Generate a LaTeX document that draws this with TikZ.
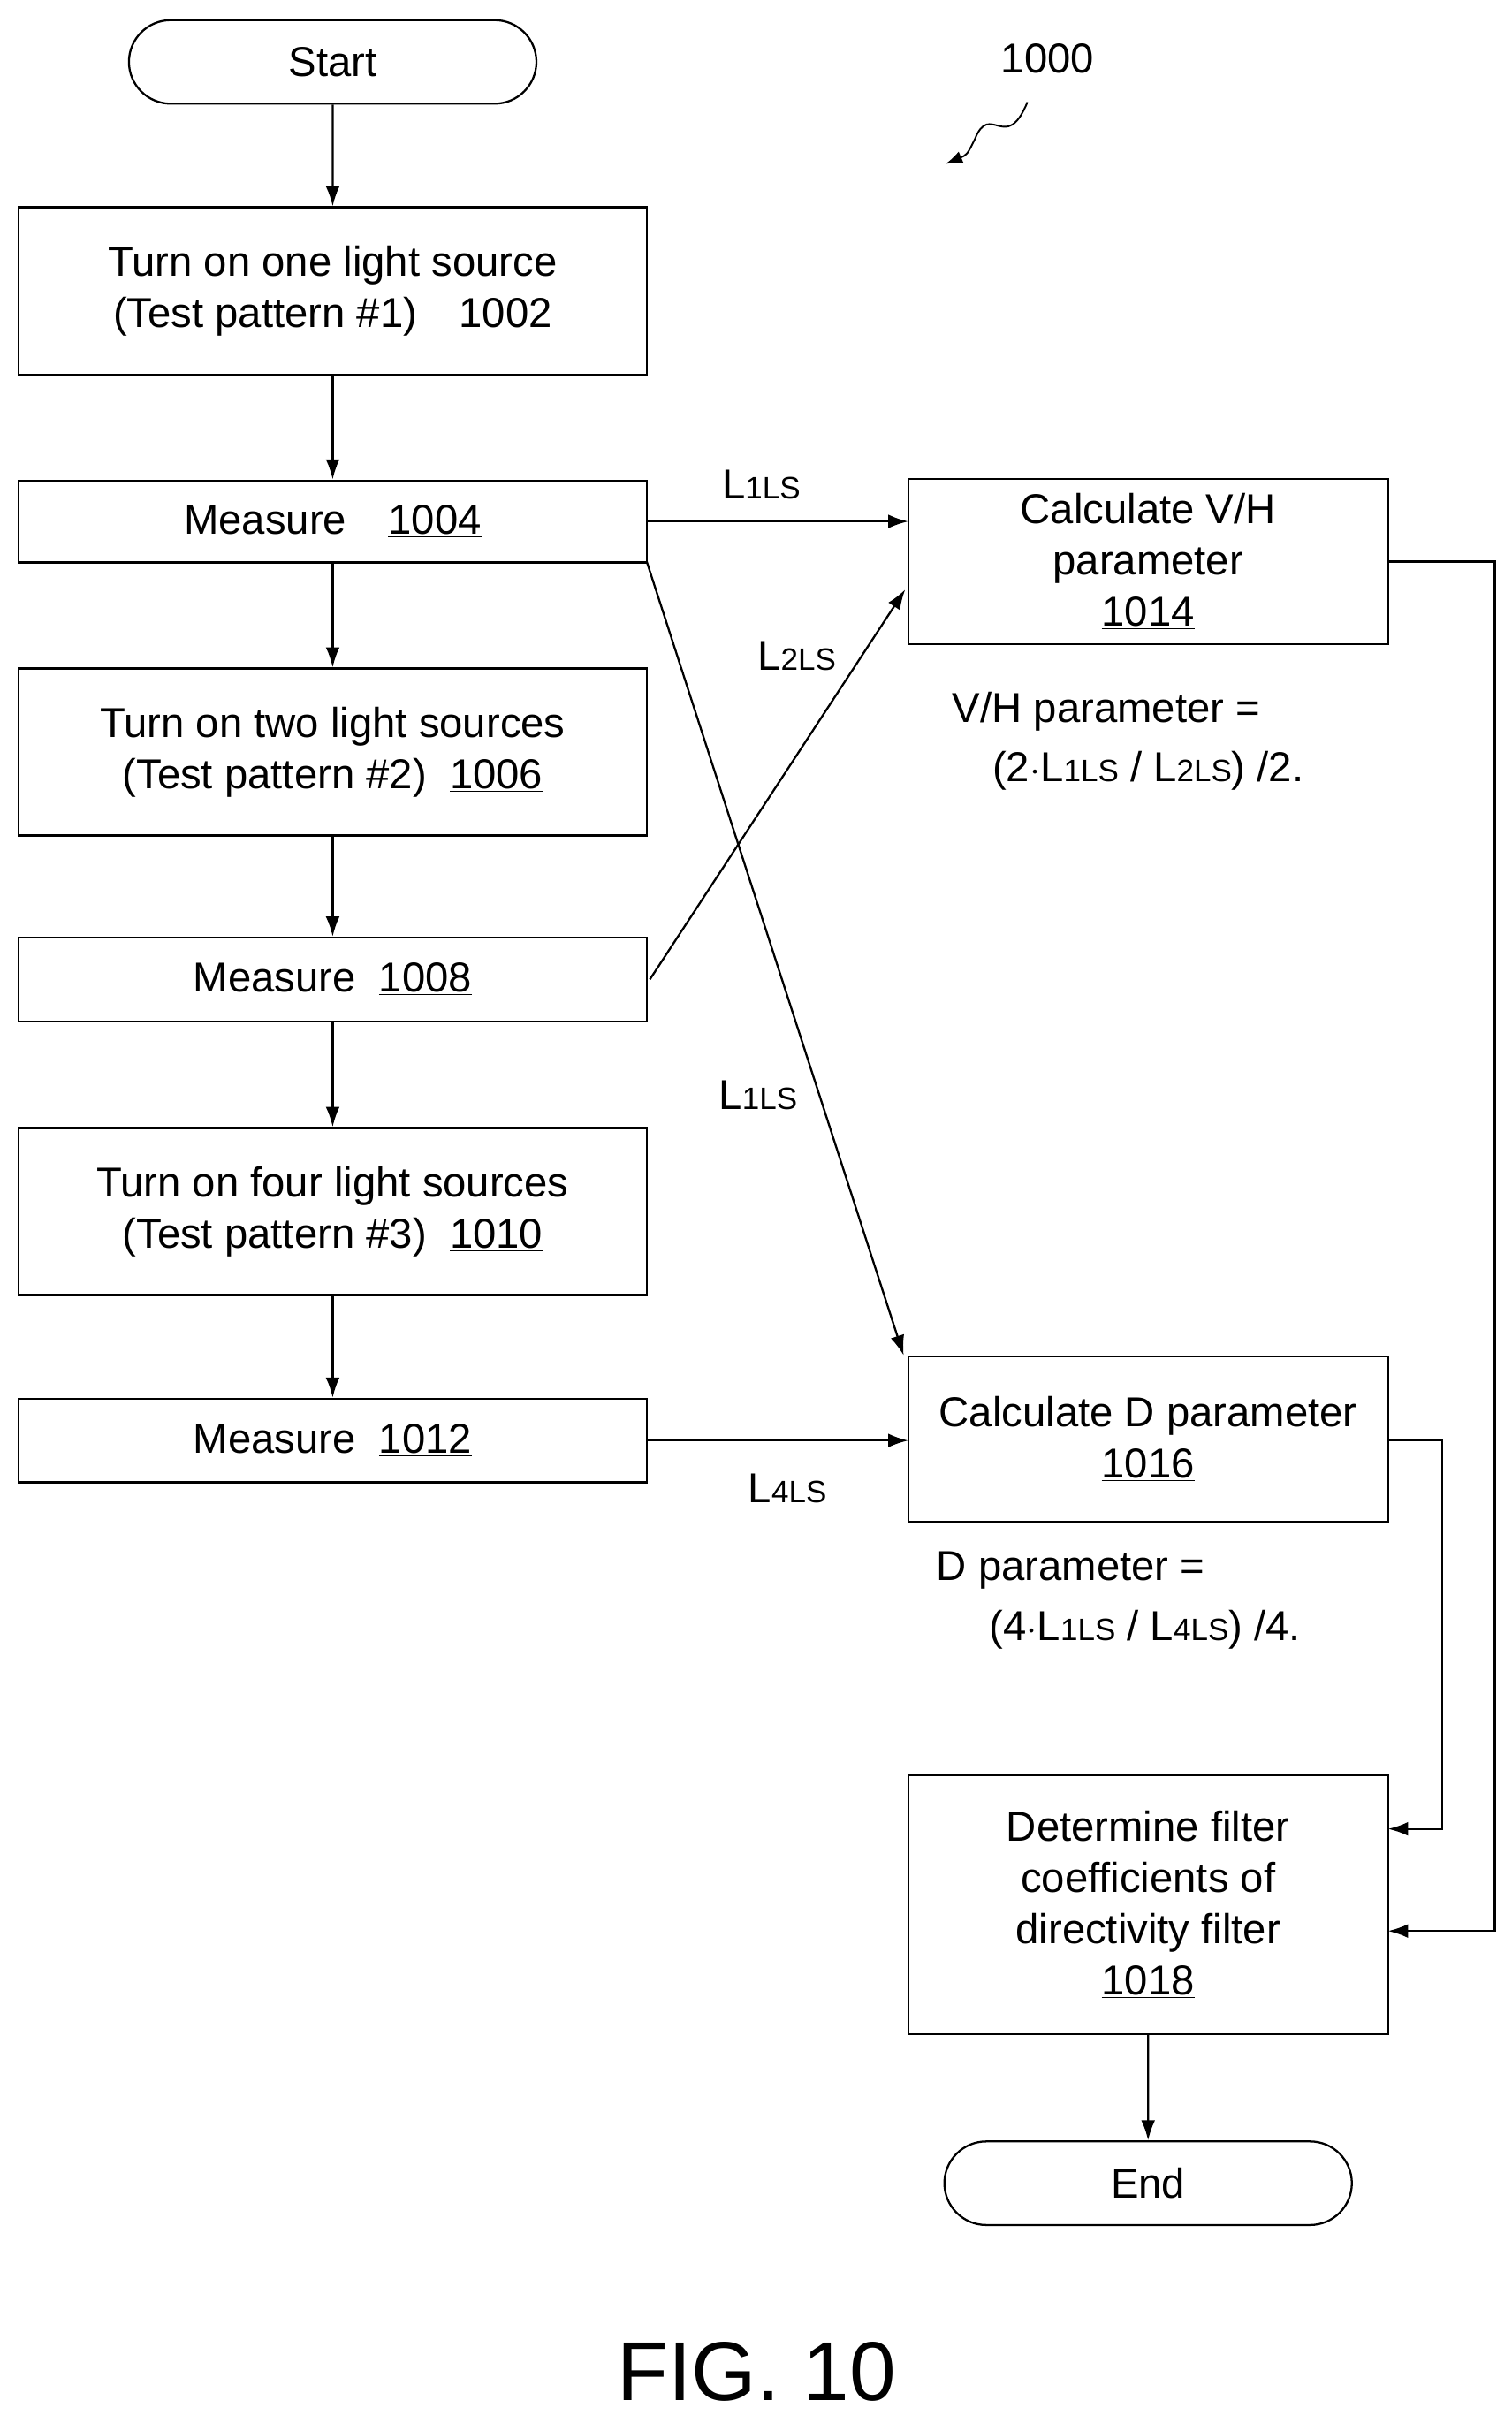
\documentclass[tikz,border=0pt]{standalone}
\usepackage{fontspec}
\setmainfont{Liberation Sans}
\usetikzlibrary{arrows.meta,shapes.misc}
\newcommand{\lsub}[1]{{\fontsize{20}{20}\selectfont #1}}
\begin{document}
\begin{tikzpicture}[x=1pt,y=-1pt,
  every node/.style={font=\fontsize{27}{33}\selectfont},
  box/.style={draw,line width=1.3pt,rectangle,inner sep=0pt,align=center},
  term/.style={draw,line width=1.3pt,rounded rectangle,minimum width=270pt,minimum height=54pt},
  arr/.style={line width=1.3pt,-{Latex[length=13pt,width=9pt]}},
  lbl/.style={inner sep=0pt}]
\useasboundingbox (0,0) rectangle (977,1566);
\node[term] (start) at (215,40) {Start};
\node[box,minimum width=406pt,minimum height=108pt] (b1002) at (215,188) {Turn on one light source\\(Test pattern \#1)\quad\underline{1002}};
\node[box,minimum width=406pt,minimum height=53pt] (b1004) at (215,337) {Measure\quad\underline{1004}};
\node[box,minimum width=406pt,minimum height=108pt] (b1006) at (215,486) {Turn on two light sources\\(Test pattern \#2)\ \ \underline{1006}};
\node[box,minimum width=406pt,minimum height=54pt] (b1008) at (215,633) {Measure\ \ \underline{1008}};
\node[box,minimum width=406pt,minimum height=108pt] (b1010) at (215,783) {Turn on four light sources\\(Test pattern \#3)\ \ \underline{1010}};
\node[box,minimum width=406pt,minimum height=54pt] (b1012) at (215,931) {Measure\ \ \underline{1012}};
\node[box,minimum width=310pt,minimum height=107pt] (b1014) at (742,363) {Calculate V/H\\parameter\\\underline{1014}};
\node[box,minimum width=310pt,minimum height=107pt] (b1016) at (742,930) {Calculate D parameter\\\underline{1016}};
\node[box,minimum width=310pt,minimum height=167pt] (b1018) at (742,1231) {Determine filter\\coefficients of\\directivity filter\\\underline{1018}};
\node[term] (end) at (742,1411) {End};
\draw[arr] (start) -- (b1002);
\draw[arr] (b1002) -- (b1004);
\draw[arr] (b1004) -- (b1006);
\draw[arr] (b1006) -- (b1008);
\draw[arr] (b1008) -- (b1010);
\draw[arr] (b1010) -- (b1012);
\draw[arr] (b1018) -- (end);
\coordinate (p1) at (418,337); \coordinate (q1) at (587,337);
\draw[arr] (p1) -- (q1);
\coordinate (p2) at (420,633); \coordinate (q2) at (585,381);
\draw[arr] (p2) -- (q2);
\coordinate (p3) at (418,363); \coordinate (q3) at (584,876);
\draw[arr] (p3) -- (q3);
\coordinate (p4) at (418,931); \coordinate (q4) at (587,931);
\draw[arr] (p4) -- (q4);
\coordinate (r1) at (897,363); \coordinate (r2) at (966,363); \coordinate (r3) at (966,1248); \coordinate (r4) at (897,1248);
\draw[arr] (r1) -- (r2) -- (r3) -- (r4);
\coordinate (s1) at (897,931); \coordinate (s2) at (932,931); \coordinate (s3) at (932,1182); \coordinate (s4) at (897,1182);
\draw[arr] (s1) -- (s2) -- (s3) -- (s4);
\node[lbl] (l1) at (492,313) {L\lsub{1LS}};
\node[lbl] (l2) at (515,424) {L\lsub{2LS}};
\node[lbl] (l3) at (490,708) {L\lsub{1LS}};
\node[lbl] (l4) at (509,962) {L\lsub{4LS}};
\node[lbl] (f1) at (715,460) {V/H parameter =};
\node[lbl] (f2) at (742,498) {(2$\cdot$L\lsub{1LS} / L\lsub{2LS}) /2.};
\node[lbl] (f3) at (692,1015) {D parameter =};
\node[lbl] (f4) at (740,1053) {(4$\cdot$L\lsub{1LS} / L\lsub{4LS}) /4.};
\node[lbl] (ref) at (677,38) {1000};
\coordinate (c1) at (664,66); \coordinate (c2) at (611,106);
\draw[arr,line width=1.1pt,-{Latex[length=11pt,width=8pt]}] (c1) .. controls (650,100) and (640,65) .. (630,90) .. controls (625,100) .. (c2);
\node[lbl,font=\fontsize{54}{60}\selectfont] (fig) at (489,1533) {FIG. 10};
\end{tikzpicture}
\end{document}
